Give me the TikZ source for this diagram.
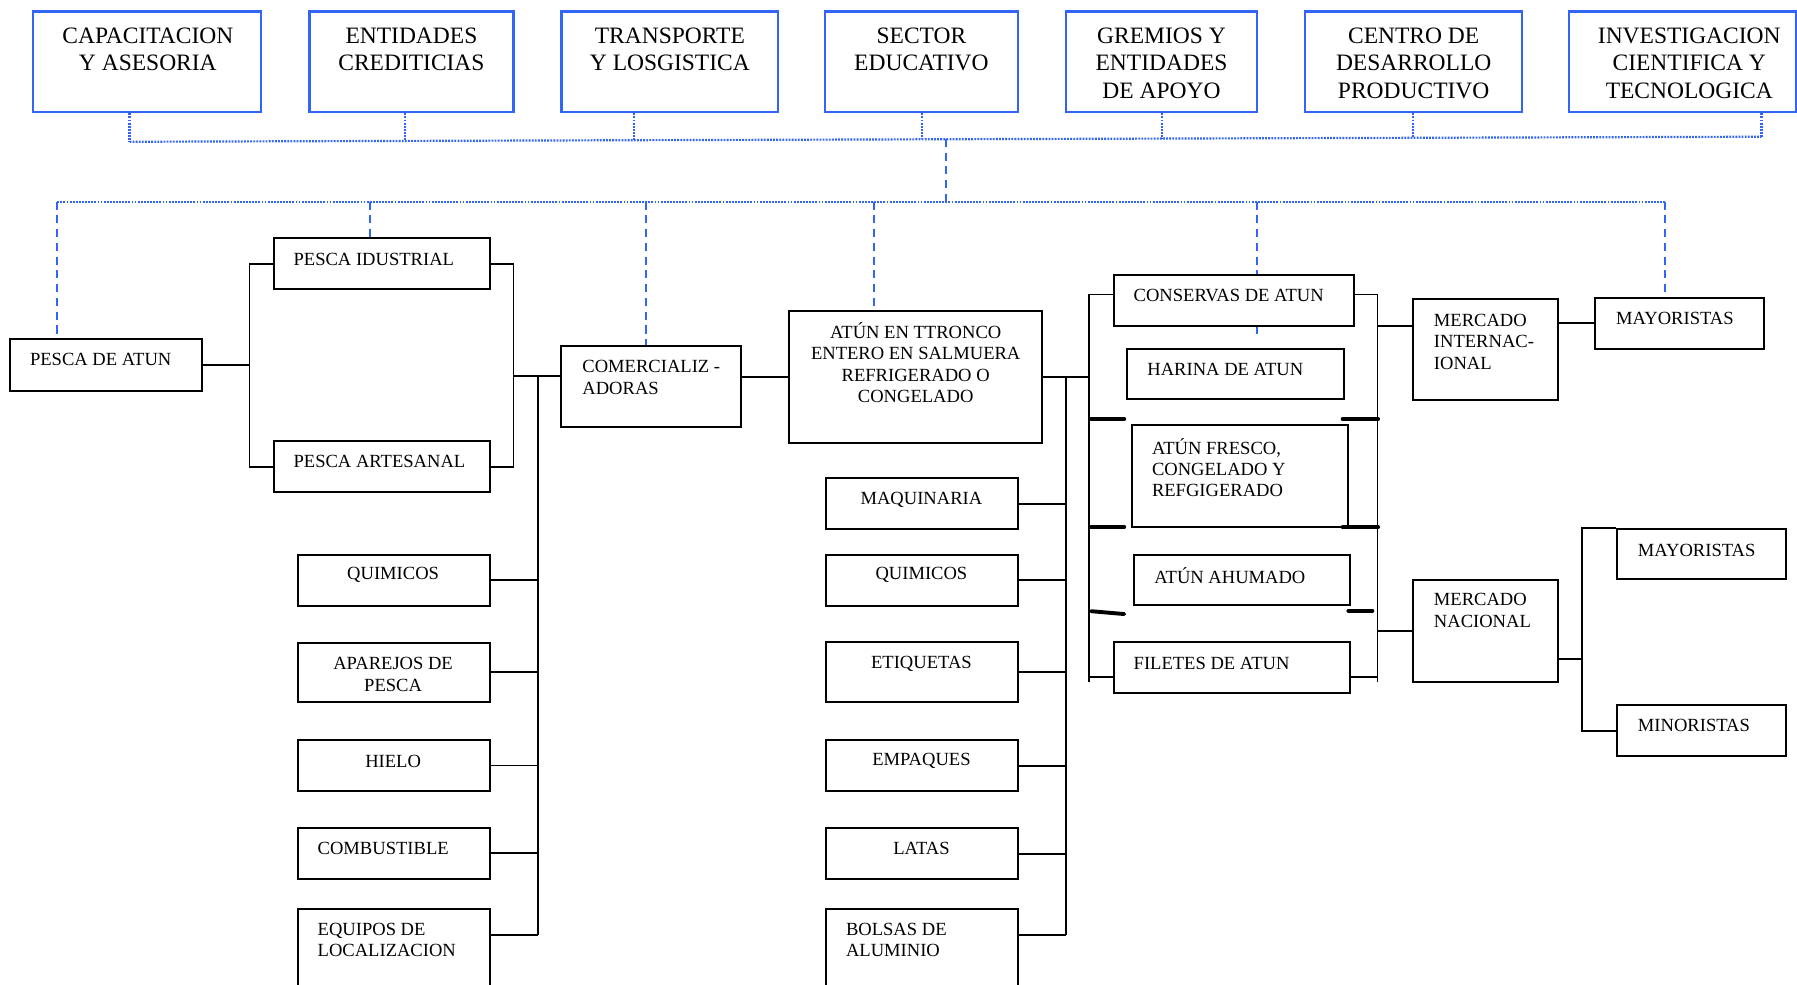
\documentclass[tikz,border=0pt]{standalone}
\usepackage{fontspec}
\setmainfont{Liberation Serif}
\usetikzlibrary{fit,backgrounds}
\definecolor{linkblue}{RGB}{50,100,245}
\begin{document}
\begin{tikzpicture}[x=1pt,y=-1pt,
  bluebox/.style={draw=linkblue, line width=1.9pt, inner sep=0pt},
  blackbox/.style={draw=black, line width=1.8pt, inner sep=0pt, fill=white},
  toptxt/.style={inner sep=0pt, align=center, font=\fontsize{20.5}{24}\selectfont},
  ctxt/.style={inner sep=0pt, align=center, font=\fontsize{16.2}{18.7}\selectfont},
  ltxt/.style={inner sep=0pt, align=left, anchor=west, font=\fontsize{16.2}{18.7}\selectfont},
  link/.style={line width=1.6pt},
  bar/.style={line width=3.4pt, line cap=round},
  bdot/.style={draw=linkblue, line width=1.9pt, dash pattern=on 1.6pt off 1.1pt},
  bdash/.style={draw=linkblue, line width=1.6pt, dash pattern=on 7pt off 5pt},
]
\useasboundingbox (0,0) rectangle (1568,859);

% ---- support institutions (top row)
\node[bluebox, fit={(29,10)(228,98)}] (cap) {};
\node[toptxt] (cap-t) at (129,43) {CAPACITACION\\Y ASESORIA};
\node[bluebox, fit={(270,10)(448,98)}] (ent) {};
\node[toptxt] (ent-t) at (359,43) {ENTIDADES\\CREDITICIAS};
\node[bluebox, fit={(490,10)(679,98)}] (tra) {};
\node[toptxt] (tra-t) at (584.5,43) {TRANSPORTE\\Y LOSGISTICA};
\node[bluebox, fit={(720,10)(888,98)}] (sec) {};
\node[toptxt] (sec-t) at (804,43) {SECTOR\\EDUCATIVO};
\node[bluebox, fit={(930,10)(1097,98)}] (gre) {};
\node[toptxt] (gre-t) at (1013.5,55) {GREMIOS Y\\ENTIDADES\\DE APOYO};
\node[bluebox, fit={(1139,10)(1328,98)}] (cen) {};
\node[toptxt] (cen-t) at (1233.5,55) {CENTRO DE\\DESARROLLO\\PRODUCTIVO};
\node[bluebox, fit={(1369,10)(1567,98)}] (inv) {};
\node[toptxt] (inv-t) at (1474,55) {INVESTIGACION\\CIENTIFICA Y\\TECNOLOGICA};

% ---- fishing
\node[blackbox, fit={(8.9,296)(176.3,341.2)}] (pda) {};
\node[ltxt] (pda-t) at (26,314) {PESCA DE ATUN};
\node[blackbox, fit={(239,207.7)(427.4,252.5)}] (pi) {};
\node[ltxt] (pi-t) at (256,226) {PESCA IDUSTRIAL};
\node[blackbox, fit={(239,384.8)(427.4,429.6)}] (pa) {};
\node[ltxt] (pa-t) at (256,403) {PESCA ARTESANAL};
\node[blackbox, fit={(489.7,302)(646.9,372.9)}] (com) {};
\node[ltxt] (com-t) at (508,329.5) {COMERCIALIZ -\\ADORAS};
\node[blackbox, fit={(688.7,271.4)(909,386.8)}] (atun) {};
\node[ctxt] (atun-t) at (799,316.5) {ATÚN EN TTRONCO\\ENTERO EN SALMUERA\\REFRIGERADO O\\CONGELADO};

% ---- inputs for fishing
\node[blackbox, fit={(259.9,484)(427.8,528.8)}] (q1) {};
\node[ctxt] (q1-t) at (343,502) {QUIMICOS};
\node[blackbox, fit={(259.9,560.8)(427.8,612.6)}] (apa) {};
\node[ctxt] (apa-t) at (343,588.5) {APAREJOS DE\\PESCA};
\node[blackbox, fit={(259.9,645.8)(427.8,690.2)}] (hie) {};
\node[ctxt] (hie-t) at (343,664) {HIELO};
\node[blackbox, fit={(259.9,722.5)(427.8,766.8)}] (comb) {};
\node[ltxt] (comb-t) at (277,740) {COMBUSTIBLE};
\node[blackbox, fit={(259.9,793.5)(427.8,864)}] (equ) {};
\node[ltxt] (equ-t) at (277,820) {EQUIPOS DE\\LOCALIZACION};

% ---- inputs for processing
\node[blackbox, fit={(720.7,417.1)(888.3,461.9)}] (maq) {};
\node[ctxt] (maq-t) at (804,436) {MAQUINARIA};
\node[blackbox, fit={(720.7,484)(888.3,528.8)}] (q2) {};
\node[ctxt] (q2-t) at (804,502) {QUIMICOS};
\node[blackbox, fit={(720.7,560.5)(888.3,612.3)}] (eti) {};
\node[ctxt] (eti-t) at (804,579) {ETIQUETAS};
\node[blackbox, fit={(720.7,646)(888.3,690.2)}] (emp) {};
\node[ctxt] (emp-t) at (804,664) {EMPAQUES};
\node[blackbox, fit={(720.7,722.8)(888.3,766.8)}] (lat) {};
\node[ctxt] (lat-t) at (804,740) {LATAS};
\node[blackbox, fit={(720.7,793.5)(888.3,864)}] (bol) {};
\node[ltxt] (bol-t) at (738,820) {BOLSAS DE\\ALUMINIO};

% ---- products
\node[blackbox, fit={(971.8,240)(1181.5,284.2)}] (cons) {};
\node[ltxt] (cons-t) at (989,258) {CONSERVAS DE ATUN};
\node[blackbox, fit={(983.5,304.3)(1172.5,348.2)}] (har) {};
\node[ltxt] (har-t) at (1001,322) {HARINA DE ATUN};
\node[blackbox, fit={(987.5,370.9)(1175.8,459.9)}] (fre) {};
\node[ltxt] (fre-t) at (1005,408) {ATÚN FRESCO,\\CONGELADO Y\\REFGIGERADO};
\node[blackbox, fit={(989.5,484)(1177.6,528)}] (ahu) {};
\node[ltxt] (ahu-t) at (1007,502) {ATÚN AHUMADO};
\node[blackbox, fit={(971.8,560.5)(1177.6,605)}] (fil) {};
\node[ltxt] (fil-t) at (989,579) {FILETES DE ATUN};

% ---- markets
\node[blackbox, fit={(1233.3,260.6)(1359.2,349.3)}] (mi) {};
\node[ltxt] (mi-t) at (1251,298) {MERCADO\\INTERNAC-\\IONAL};
\node[blackbox, fit={(1392,260)(1539,304.3)}] (may1) {};
\node[ltxt] (may1-t) at (1410,278) {MAYORISTAS};
\node[blackbox, fit={(1233.3,506.1)(1359.2,594.8)}] (mn) {};
\node[ltxt] (mn-t) at (1251,532.5) {MERCADO\\NACIONAL};
\node[blackbox, fit={(1411,461.9)(1558.5,505.5)}] (may2) {};
\node[ltxt] (may2-t) at (1429,480) {MAYORISTAS};
\node[blackbox, fit={(1411,615.5)(1558.5,659.7)}] (min) {};
\node[ltxt] (min-t) at (1429,633) {MINORISTAS};

% ---- junction points
\coordinate (j1) at (217.7,318.6);
\coordinate (j2) at (448,328.4);
\coordinate (k1) at (469.6,328.4);
\coordinate (k1e) at (469.6,816);
\coordinate (j3) at (950.5,329.1);
\coordinate (k2) at (930,329.1);
\coordinate (k2e) at (930,816);
\coordinate (pl1) at (950.5,257);
\coordinate (pl2) at (950.5,594.8);
\coordinate (pl3) at (950.5,590.5);
\coordinate (pr1) at (1202,257);
\coordinate (pr2) at (1202,594.8);
\coordinate (pr3) at (1202,590.5);
\coordinate (pr4) at (1202,284.2);
\coordinate (pr5) at (1202,550.4);
\coordinate (m1) at (1380.2,574.8);

% ---- black connectors
\draw[link] (pda.east) -- (j1);
\draw[link] (pi.west) -| (j1) |- (pa.west);
\draw[link] (pi.east) -| (j2) |- (pa.east);
\draw[link] (j2) -- (j2 -| com.west);
\draw[link] (k1) -- (k1e);
\foreach \n in {q1,apa,hie,comb} \draw[link] (\n.east) -- (\n.east -| k1);
\draw[link] (k1e) -- (k1e -| equ.east);
\draw[link] (atun.west -| com.east) -- (atun.west);
\draw[link] (atun.east) -- (j3);
\draw[link] (k2) -- (k2e);
\foreach \n in {maq,q2,eti,emp,lat} \draw[link] (\n.east) -- (\n.east -| k2);
\draw[link] (k2e) -- (k2e -| bol.east);
\draw[link] (pl1 -| cons.west) -- (pl1) -- (pl2);
\draw[link] (pl3) -- (pl3 -| fil.west);
\draw[link] (pr1 -| cons.east) -- (pr1) -- (pr2);
\draw[link] (pr3 -| fil.east) -- (pr3);
\draw[link] (pr4) -- (pr4 -| mi.west);
\draw[link] (mn.west -| pr5) -- (mn.west);
\draw[link] (may1.west -| mi.east) -- (may1.west);
\draw[link] (m1 -| mn.east) -- (m1);
\draw[link] (may2.north west) -| (m1) |- (min.west);

% ---- heavy separators beside the product boxes
\draw[bar] (952,365.6) -- (981,365.6);
\draw[bar] (952,459.9) -- (981,459.9);
\draw[bar] (952,533.3) -- (981,535.8);
\draw[bar] (1171.5,365.6) -- (1202.5,365.6);
\draw[bar] (1171.5,459.9) -- (1202.5,459.9);
\draw[bar] (1176.5,533) -- (1197.5,533);

% ---- blue links, behind the boxes
\begin{scope}[on background layer]
\fill[white] (0,0) rectangle (1568,859);
\coordinate (s1) at (113,123.7);
\coordinate (s2) at (353.7,122.9);
\coordinate (s3) at (553.5,122.2);
\coordinate (s4) at (804.5,121.3);
\coordinate (s5) at (1013.9,120.6);
\coordinate (s6) at (1233,119.9);
\coordinate (s7) at (1537,119.3);
\coordinate (c0) at (825.5,121.2);
\coordinate (h1) at (50,176);
\coordinate (h2) at (1453,176);
\coordinate (d2) at (322.6,176);
\coordinate (d3) at (564,176);
\coordinate (d4) at (762.4,176);
\coordinate (d5) at (1097,176);
\coordinate (d5e) at (1097,292);
\draw[bdot] (s1) -- (s7);
\draw[bdot] (cap.south -| s1) -- (s1);
\draw[bdot] (ent.south -| s2) -- (s2);
\draw[bdot] (tra.south -| s3) -- (s3);
\draw[bdot] (sec.south -| s4) -- (s4);
\draw[bdot] (gre.south -| s5) -- (s5);
\draw[bdot] (cen.south -| s6) -- (s6);
\draw[bdot] (inv.south -| s7) -- (s7);
\draw[bdash] (c0) -- (c0 |- h1);
\draw[bdot] (h1) -- (h2);
\draw[bdash] (h1) -- (pda.north -| h1);
\draw[bdash] (d2) -- (pi.north -| d2);
\draw[bdash] (d3) -- (com.north -| d3);
\draw[bdash] (d4) -- (atun.north -| d4);
\draw[bdash] (d5) -- (d5e);
\draw[bdash] (h2) -- (may1.north -| h2);
\end{scope}
\end{tikzpicture}
\end{document}
